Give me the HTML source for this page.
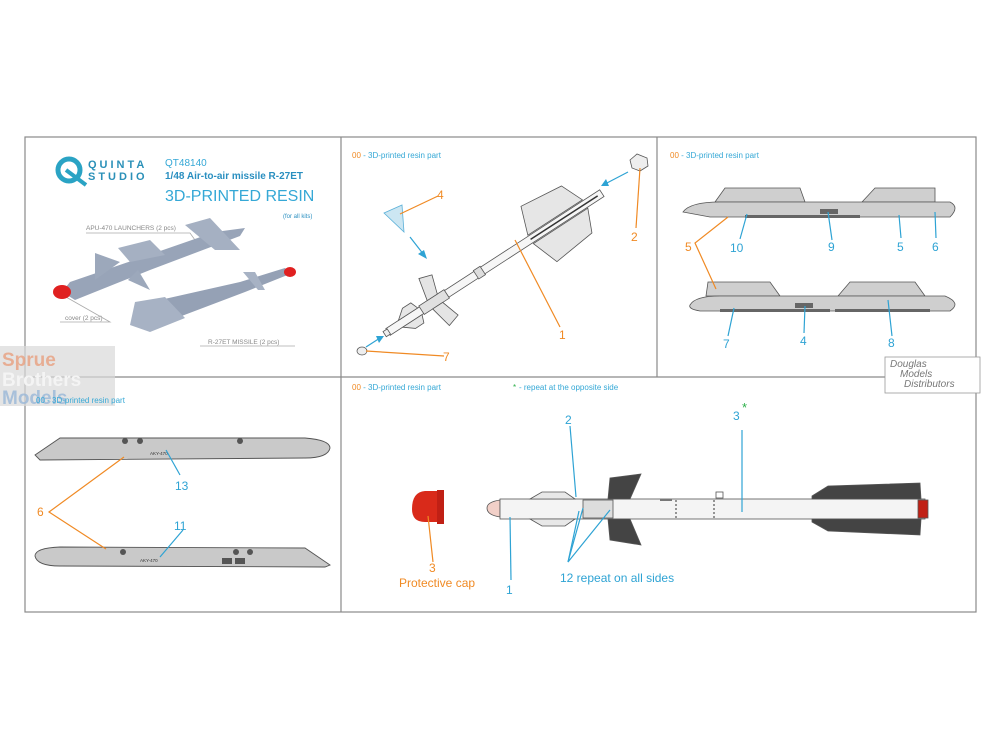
<!DOCTYPE html>
<html><head><meta charset="utf-8"><style>
body{margin:0;background:#fff;}
svg{display:block;font-family:"Liberation Sans",Arial,sans-serif;}
</style></head><body>
<svg width="1000" height="750" viewBox="0 0 1000 750" xmlns="http://www.w3.org/2000/svg">
<rect width="1000" height="750" fill="#fff"/>
<g stroke="#8a8a8a" stroke-width="1.2" fill="none">
<rect x="25" y="137" width="951" height="475"/>
<line x1="25" y1="377" x2="976" y2="377"/>
<line x1="341" y1="137" x2="341" y2="612"/>
<line x1="657" y1="137" x2="657" y2="377"/>
</g>

<!-- Panel 1 header -->
<circle cx="69" cy="170" r="11" fill="none" stroke="#2aa3c4" stroke-width="5"/>
<path d="M66 170 L86 185" stroke="#2aa3c4" stroke-width="4"/>
<text x="88" y="168" font-size="11" font-weight="bold" fill="#2a90b8" letter-spacing="3">QUINTA</text>
<text x="88" y="180" font-size="11" font-weight="bold" fill="#2a90b8" letter-spacing="3">STUDIO</text>
<text x="165" y="166" font-size="10" fill="#35a8d6">QT48140</text>
<text x="165" y="179" font-size="10" font-weight="bold" fill="#2a8fc0">1/48 Air-to-air missile R-27ET</text>
<text x="165" y="201" font-size="16" fill="#35a8d6">3D-PRINTED RESIN</text>
<text x="283" y="218" font-size="6" fill="#2a8fc0">(for all kits)</text>
<text x="86" y="230" font-size="6.5" fill="#888">APU-470 LAUNCHERS (2 pcs)</text>
<text x="65" y="320" font-size="6.5" fill="#888">cover (2 pcs)</text>
<text x="208" y="344" font-size="6.5" fill="#888">R-27ET MISSILE (2 pcs)</text>
<g stroke="#aaa" stroke-width="0.8" fill="none">
<polyline points="86,233 190,233 195,240"/>
<polyline points="60,322 110,322 66,297"/>
<polyline points="200,346 295,346"/>
</g>
<polygon points="62,292 70,282 140,258 215,232 245,228 240,236 150,270 75,300" fill="#98a4b8"/>
<polygon points="95,280 120,262 95,253" fill="#9ca8bb"/>
<polygon points="138,270 150,290 128,280" fill="#9ca8bb"/>
<polygon points="185,225 210,218 240,250 215,250" fill="#a5b0c2"/>
<polygon points="118,248 150,240 165,255 130,262" fill="#a5b0c2"/>
<ellipse cx="62" cy="292" rx="9" ry="7" fill="#e02020"/>
<polygon points="140,318 160,300 240,282 285,268 290,274 245,292 150,328" fill="#95a1b5"/>
<polygon points="135,302 165,297 185,318 150,332 130,325" fill="#a7b2c4"/>
<polygon points="243,272 255,272 265,290 258,290" fill="#a7b2c4"/>
<ellipse cx="290" cy="272" rx="6" ry="5" fill="#e02020"/>
<rect x="0" y="346" width="115" height="60" fill="#d8d8d8" opacity="0.7"/>
<text x="2" y="366" font-size="19" font-weight="bold" fill="#e8a080" opacity="0.8">Sprue</text>
<text x="2" y="386" font-size="19" font-weight="bold" fill="#f4f4f4">Brothers</text>
<text x="2" y="404" font-size="19" font-weight="bold" fill="#9ab8d8" opacity="0.8">Models</text>

<!-- Panel 2 -->
<text x="352" y="158" font-size="8"><tspan fill="#f08a24">00</tspan><tspan fill="#35a8d6"> - 3D-printed resin part</tspan></text>
<g transform="translate(388,332) rotate(-33)" stroke="#555" stroke-width="0.8">
<rect x="0" y="-4" width="255" height="8" fill="#f6f6f6"/>
<rect x="-4" y="-3" width="5" height="6" fill="#eee"/>
<polygon points="15,-4 25,-12 35,-12 38,-4" fill="#e6e6e6"/>
<polygon points="15,4 25,12 35,12 38,4" fill="#e6e6e6"/>
<rect x="40" y="-5" width="30" height="10" fill="#e0e0e0"/>
<polygon points="50,-5 55,-28 68,-24 62,-5" fill="#e4e4e4"/>
<polygon points="50,5 55,28 68,24 62,5" fill="#e4e4e4"/>
<rect x="105" y="-5" width="8" height="10" fill="#ddd"/>
<polygon points="170,-5 180,-33 225,-28 235,-5" fill="#e6e6e6"/>
<polygon points="170,5 180,33 225,28 235,5" fill="#e6e6e6"/>
<line x1="170" y1="0" x2="250" y2="0" stroke="#333" stroke-width="1.5"/>
</g>
<polygon points="384,213 402,205 404,232" fill="#cce6f2" stroke="#5ab0d8" stroke-width="0.8"/>
<polygon points="630,160 637,154 647,158 648,166 640,171 632,168" fill="#eee" stroke="#555" stroke-width="0.8"/>
<ellipse cx="362" cy="351" rx="5" ry="4" fill="#eee" stroke="#555" stroke-width="0.7"/>
<g stroke="#2ea3d4" stroke-width="1.2" fill="none">
<line x1="410" y1="237" x2="424" y2="255"/>
<line x1="628" y1="172" x2="605" y2="184"/>
<line x1="366" y1="347" x2="380" y2="338"/>
</g>
<g fill="#2ea3d4"><polygon points="427,259 418,254 424,250"/><polygon points="601,186 606,179 609,186"/><polygon points="384,336 379,343 376,336"/></g>
<g stroke="#f08a24" stroke-width="1.2" fill="none">
<line x1="438" y1="196" x2="400" y2="214"/>
<line x1="636" y1="228" x2="640" y2="168"/>
<line x1="560" y1="327" x2="515" y2="240"/>
<line x1="444" y1="356" x2="366" y2="351"/>
</g>
<g font-size="12" fill="#f08a24">
<text x="437" y="199">4</text><text x="631" y="241">2</text><text x="559" y="339">1</text><text x="443" y="361">7</text>
</g>

<!-- Panel 3 -->
<text x="670" y="158" font-size="8"><tspan fill="#f08a24">00</tspan><tspan fill="#35a8d6"> - 3D-printed resin part</tspan></text>
<g fill="#cfcfcf" stroke="#555" stroke-width="0.8">
<polygon points="715,202 725,188 800,188 805,202"/>
<polygon points="862,202 875,188 935,188 935,202"/>
<path d="M683,212 Q690,202 720,202 L950,202 Q960,207 950,217 L710,217 Z"/>
<polygon points="706,296 708,282 770,282 780,296"/>
<polygon points="838,296 850,282 915,282 925,296"/>
<path d="M690,305 Q695,296 720,296 L945,296 Q962,303 950,311 L700,311 Q688,309 690,305 Z"/>
</g>
<g fill="#666"><rect x="745" y="215" width="115" height="3"/><rect x="820" y="209" width="18" height="5"/><rect x="720" y="309" width="110" height="3"/><rect x="795" y="303" width="18" height="5"/><rect x="835" y="309" width="95" height="3"/></g>
<g stroke="#2ea3d4" stroke-width="1.2" fill="none">
<line x1="747" y1="214" x2="740" y2="239"/><line x1="828" y1="212" x2="832" y2="240"/><line x1="899" y1="215" x2="901" y2="238"/><line x1="935" y1="212" x2="936" y2="238"/>
<line x1="734" y1="308" x2="728" y2="336"/><line x1="805" y1="306" x2="804" y2="333"/><line x1="888" y1="300" x2="892" y2="336"/>
</g>
<g stroke="#f08a24" stroke-width="1.2" fill="none"><polyline points="728,217 695,243 716,289"/></g>
<g font-size="12" fill="#2ea3d4">
<text x="730" y="252">10</text><text x="828" y="251">9</text><text x="897" y="251">5</text><text x="932" y="251">6</text>
<text x="723" y="348">7</text><text x="800" y="345">4</text><text x="888" y="347">8</text>
</g>
<text x="685" y="251" font-size="12" fill="#f08a24">5</text>
<rect x="885" y="357" width="95" height="36" fill="#fff" stroke="#999" stroke-width="0.8"/>
<g font-size="10" font-style="italic" fill="#777"><text x="890" y="367">Douglas</text><text x="900" y="377">Models</text><text x="904" y="387">Distributors</text></g>

<!-- Panel 4 -->
<text x="36" y="403" font-size="8" fill="#35a8d6">00 - 3D-printed resin part</text>
<g fill="#c9c9c9" stroke="#555" stroke-width="0.9">
<path d="M35,455 L60,438 L305,438 Q330,440 330,448 Q328,458 305,458 L40,460 Z"/>
<path d="M330,565 L305,548 L60,547 Q35,548 35,556 Q37,566 60,566 L325,567 Z"/>
</g>
<g fill="#555">
<circle cx="125" cy="441" r="3"/><circle cx="140" cy="441" r="3"/><circle cx="240" cy="441" r="3"/>
<circle cx="123" cy="552" r="3"/><circle cx="236" cy="552" r="3"/><circle cx="250" cy="552" r="3"/>
<rect x="222" y="558" width="10" height="6"/><rect x="235" y="558" width="10" height="6"/>
</g>
<text x="150" y="455" font-size="4.5" fill="#333">AKY-470</text>
<text x="140" y="562" font-size="4.5" fill="#333">AKY-470</text>
<g stroke="#2ea3d4" stroke-width="1.2" fill="none"><line x1="166" y1="450" x2="180" y2="475"/><line x1="160" y1="557" x2="183" y2="530"/></g>
<g stroke="#f08a24" stroke-width="1.2" fill="none"><polyline points="124,457 49,512 106,549"/></g>
<text x="175" y="490" font-size="12" fill="#2ea3d4">13</text>
<text x="174" y="530" font-size="12" fill="#2ea3d4">11</text>
<text x="37" y="516" font-size="12" fill="#f08a24">6</text>

<!-- Panel 5 -->
<text x="352" y="390" font-size="8"><tspan fill="#f08a24">00</tspan><tspan fill="#35a8d6"> - 3D-printed resin part</tspan></text>
<text x="513" y="390" font-size="8" fill="#2db04a">*</text>
<text x="519" y="390" font-size="8" fill="#35a8d6">- repeat at the opposite side</text>
<path d="M412,509 Q412,492 425,491 L437,491 L437,522 L425,522 Q412,522 412,509Z" fill="#d92a1a"/>
<rect x="437" y="490" width="7" height="34" fill="#c02015"/>
<g stroke="#555" stroke-width="0.8">
<path d="M500,500 Q487,502 487,508 Q487,515 500,517 Z" fill="#f2d0c8"/>
<rect x="500" y="499" width="425" height="20" fill="#f4f4f4"/>
<polygon points="530,499 542,492 565,492 575,499" fill="#e8e8e8"/>
<polygon points="530,519 542,526 565,526 575,519" fill="#e8e8e8"/>
<rect x="583" y="500" width="30" height="18" fill="#ddd"/>
<polygon points="608,499 610,478 641,474 630,499" fill="#444"/>
<polygon points="608,519 610,540 641,545 630,519" fill="#444"/>
<polygon points="812,496 828,486 920,483 921,499 812,499" fill="#444"/>
<polygon points="812,522 828,531 920,535 921,519 812,519" fill="#444"/>
<rect x="918" y="500" width="10" height="18" fill="#c02015"/>
<rect x="716" y="492" width="7" height="6" fill="#fff"/>
</g>
<g stroke="#333" stroke-width="1" stroke-dasharray="2,2"><line x1="676" y1="500" x2="676" y2="518"/><line x1="714" y1="500" x2="714" y2="518"/></g>
<line x1="660" y1="500" x2="672" y2="500" stroke="#777" stroke-width="2"/>
<g stroke="#2ea3d4" stroke-width="1.2" fill="none">
<line x1="510" y1="517" x2="511" y2="580"/>
<line x1="570" y1="426" x2="576" y2="497"/>
<line x1="742" y1="430" x2="742" y2="512"/>
<polyline points="583,508 568,562 610,510"/>
<line x1="568" y1="562" x2="579" y2="511"/>
</g>
<text x="565" y="424" font-size="12" fill="#2ea3d4">2</text>
<text x="733" y="420" font-size="12" fill="#2ea3d4">3</text>
<text x="742" y="412" font-size="13" fill="#2db04a">*</text>
<text x="506" y="594" font-size="12" fill="#2ea3d4">1</text>
<text x="560" y="582" font-size="12" fill="#2ea3d4">12 repeat on all sides</text>
<line x1="428" y1="516" x2="433" y2="562" stroke="#f08a24" stroke-width="1.2"/>
<text x="429" y="572" font-size="12" fill="#f08a24">3</text>
<text x="399" y="587" font-size="12" fill="#f08a24">Protective cap</text>
</svg>
</body></html>
